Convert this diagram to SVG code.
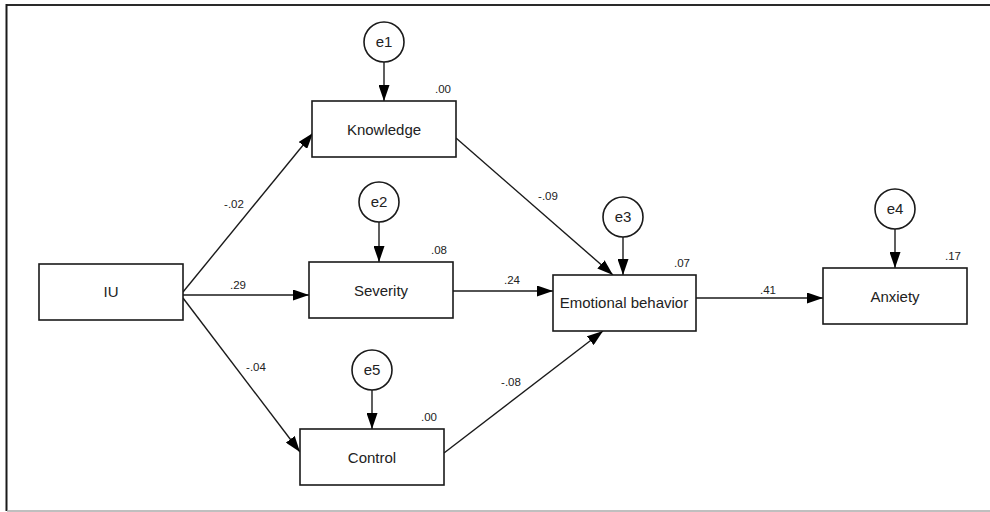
<svg xmlns="http://www.w3.org/2000/svg" width="990" height="512" viewBox="0 0 990 512">
<defs>
<marker id="ah" markerWidth="16" markerHeight="11" refX="16" refY="5.5" orient="auto" markerUnits="userSpaceOnUse">
<path d="M0,0 L16,5.5 L0,11 Z" fill="#000"/>
</marker>
<style>
.box{fill:#fff;stroke:#1a1a1a;stroke-width:1.6}
.err{fill:#fff;stroke:#1a1a1a;stroke-width:1.6}
.lbl{font-family:"Liberation Sans",Arial,sans-serif;font-size:15px;fill:#222;text-anchor:middle}
.num{font-family:"Liberation Sans",Arial,sans-serif;font-size:11.5px;fill:#222;text-anchor:middle}
.edge{stroke:#1a1a1a;stroke-width:1.4;fill:none;marker-end:url(#ah)}
</style>
</defs>
<rect width="990" height="512" fill="#fff"/>
<g id="frame">
<line x1="6" y1="5" x2="990" y2="5" stroke="#2a2a2a" stroke-width="2"/>
<line x1="6.5" y1="4" x2="6.5" y2="511" stroke="#1a1a1a" stroke-width="2"/>
<line x1="7" y1="511" x2="990" y2="511" stroke="#aaa" stroke-width="1.5"/>
</g>
<g id="connectors">
<line class="edge" x1="183" y1="292" x2="313" y2="133"/>
<line class="edge" x1="183" y1="295" x2="309" y2="295"/>
<line class="edge" x1="183" y1="298" x2="300" y2="452"/>
<line class="edge" x1="456" y1="138" x2="613" y2="275"/>
<line class="edge" x1="453" y1="291" x2="553" y2="291"/>
<line class="edge" x1="444" y1="453" x2="603" y2="331"/>
<line class="edge" x1="696" y1="298" x2="823" y2="298"/>
<line class="edge" x1="384" y1="62" x2="384" y2="101"/>
<line class="edge" x1="379" y1="222" x2="379" y2="262"/>
<line class="edge" x1="623" y1="237" x2="623" y2="275"/>
<line class="edge" x1="895" y1="229" x2="895" y2="268"/>
<line class="edge" x1="372" y1="390" x2="372" y2="429"/>
<text class="num" x="234" y="208">-.02</text>
<text class="num" x="238" y="289">.29</text>
<text class="num" x="256" y="371">-.04</text>
<text class="num" x="548" y="200">-.09</text>
<text class="num" x="512" y="284">.24</text>
<text class="num" x="511" y="386">-.08</text>
<text class="num" x="768" y="294">.41</text>
</g>
<g id="IU"><rect class="box" x="39" y="264" width="144" height="56"/><text class="lbl" x="111" y="297">IU</text></g>
<g id="Knowledge"><rect class="box" x="312" y="101" width="144" height="56"/><text class="lbl" x="384" y="135">Knowledge</text><text class="num" x="443" y="93">.00</text></g>
<g id="Severity"><rect class="box" x="309" y="262" width="144" height="56"/><text class="lbl" x="381" y="296">Severity</text><text class="num" x="439" y="254">.08</text></g>
<g id="Control"><rect class="box" x="300" y="429" width="144" height="56"/><text class="lbl" x="372" y="463">Control</text><text class="num" x="429" y="421">.00</text></g>
<g id="Emotional"><rect class="box" x="553" y="275" width="143" height="56"/><text class="lbl" x="624" y="308">Emotional behavior</text><text class="num" x="682" y="267">.07</text></g>
<g id="Anxiety"><rect class="box" x="823" y="268" width="144" height="56"/><text class="lbl" x="895" y="302">Anxiety</text><text class="num" x="953" y="260">.17</text></g>
<g id="e1"><circle class="err" cx="384" cy="42" r="20"/><text class="lbl" x="384" y="47">e1</text></g>
<g id="e2"><circle class="err" cx="379" cy="202" r="20"/><text class="lbl" x="379" y="207">e2</text></g>
<g id="e3"><circle class="err" cx="623" cy="217" r="20"/><text class="lbl" x="623" y="222">e3</text></g>
<g id="e4"><circle class="err" cx="895" cy="209" r="20"/><text class="lbl" x="895" y="214">e4</text></g>
<g id="e5"><circle class="err" cx="372" cy="370" r="20"/><text class="lbl" x="372" y="375">e5</text></g>
</svg>
